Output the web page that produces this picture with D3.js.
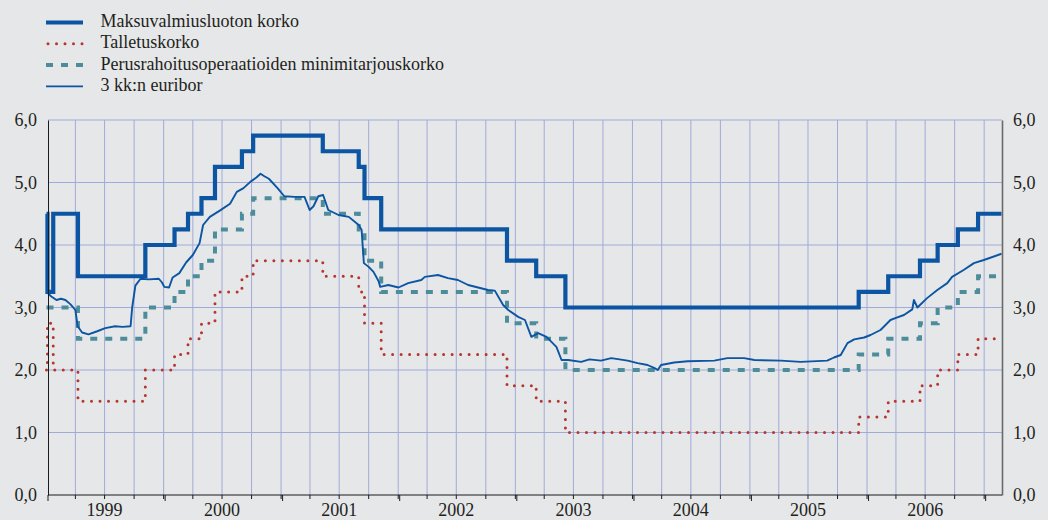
<!DOCTYPE html>
<head>
  <meta charset="utf-8">
  <script src="https://d3js.org/d3.v7.min.js"></script>
  <style>
    body { margin:0; background:#e6e7e9; }
    svg { display:block; }
    .grid-line { stroke:#a1aad9; stroke-width:1; }
    .axis path, .axis line { stroke:#1a1a1a; }
    .axis-right path { stroke:#6a6a6a; stroke-width:1.6; }
    .marginal { fill:none; stroke:#0b55a3; stroke-width:4.2; }
    .deposit { fill:none; stroke:#b5362f; stroke-width:3; stroke-dasharray:0,8.5; stroke-linecap:round; }
    .mro { fill:none; stroke:#4d8d9b; stroke-width:4; stroke-dasharray:7,8; }
    .euribor { fill:none; stroke:#0b55a3; stroke-width:1.9; stroke-linejoin:round; }
  </style>
</head>

<body>
  <script>
    // policy rate decisions (EKP), % per year
    var rateDates = ["1999-01-01","1999-01-04","1999-01-22","1999-04-09","1999-11-05",
      "2000-02-04","2000-03-17","2000-04-28","2000-06-09","2000-09-01","2000-10-06",
      "2001-05-11","2001-08-31","2001-09-18","2001-11-09","2002-12-06",
      "2003-03-07","2003-06-06","2005-12-06","2006-03-08","2006-06-15",
      "2006-08-09","2006-10-11","2006-12-13"];
    var marginalRate = [4.50,3.25,4.50,3.50,4.00, 4.25,4.50,4.75,5.25,5.50,5.75,
      5.50,5.25,4.75,4.25,3.75, 3.50,3.00,3.25,3.50,3.75, 4.00,4.25,4.50];
    var depositRate = [2.00,2.75,2.00,1.50,2.00, 2.25,2.50,2.75,3.25,3.50,3.75,
      3.50,3.25,2.75,2.25,1.75, 1.50,1.00,1.25,1.50,1.75, 2.00,2.25,2.50];
    var mroRate = [3.00,3.00,3.00,2.50,3.00, 3.25,3.50,3.75,4.25,4.50,4.75,
      4.50,4.25,3.75,3.25,2.75, 2.50,2.00,2.25,2.50,2.75, 3.00,3.25,3.50];
    var endDate = "2007-02-24";

    // 3 kk:n euribor
    var euriborDates = ["1999-01-01","1999-01-15","1999-02-01","1999-02-15","1999-03-01","1999-03-17",
      "1999-04-01","1999-04-08","1999-04-22","1999-05-12","1999-06-08","1999-07-03","1999-08-03",
      "1999-08-26","1999-09-20","1999-09-25","1999-10-05","1999-10-21","1999-11-16","1999-12-17",
      "1999-12-27","2000-01-03","2000-01-18","2000-01-29","2000-02-19","2000-03-11","2000-04-01",
      "2000-04-22","2000-05-03","2000-05-24","2000-06-24","2000-07-26","2000-08-16","2000-09-06",
      "2000-09-27","2000-10-16","2000-10-29","2000-11-10","2000-11-24","2000-12-21","2001-01-11",
      "2001-02-12","2001-03-15","2001-03-31","2001-04-12","2001-04-27","2001-05-12","2001-05-28",
      "2001-06-29","2001-07-31","2001-08-31","2001-09-09","2001-09-16","2001-10-01","2001-10-16",
      "2001-11-01","2001-11-06","2001-12-01","2002-01-02","2002-02-01","2002-03-14","2002-03-25",
      "2002-05-05","2002-06-05","2002-07-06","2002-08-07","2002-09-07","2002-10-08","2002-10-29",
      "2002-11-24","2002-12-10","2003-01-10","2003-01-31","2003-02-20","2003-03-13","2003-04-08",
      "2003-05-09","2003-05-25","2003-06-15","2003-07-25","2003-08-20","2003-09-25","2003-10-27",
      "2003-12-17","2004-01-17","2004-02-17","2004-03-10","2004-03-20","2004-03-30","2004-05-10",
      "2004-06-21","2004-09-12","2004-10-23","2004-12-14","2005-01-15","2005-04-07","2005-06-08",
      "2005-08-30","2005-09-20","2005-10-11","2005-11-01","2005-11-22","2005-12-23","2006-01-12",
      "2006-02-12","2006-03-15","2006-03-30","2006-04-26","2006-05-22","2006-05-27","2006-06-07",
      "2006-07-07","2006-08-08","2006-09-08","2006-09-23","2006-10-29","2006-11-30","2006-12-31",
      "2007-02-24"];
    var euriborValues = [3.25,3.18,3.12,3.14,3.12,3.05,
      2.96,2.70,2.60,2.57,2.62,2.67,2.70,
      2.69,2.70,3.00,3.35,3.46,3.45,3.46,
      3.40,3.33,3.32,3.48,3.55,3.72,3.84,
      4.03,4.32,4.45,4.55,4.66,4.85,4.91,
      5.01,5.08,5.14,5.10,5.06,4.91,4.78,
      4.77,4.77,4.56,4.62,4.78,4.80,4.56,
      4.48,4.45,4.32,4.24,3.71,3.65,3.57,
      3.42,3.33,3.36,3.32,3.39,3.44,3.49,
      3.52,3.47,3.44,3.36,3.32,3.28,3.27,
      3.04,2.96,2.85,2.80,2.53,2.59,2.53,
      2.37,2.16,2.16,2.13,2.17,2.15,2.19,
      2.15,2.11,2.08,2.03,2.00,2.08,2.12,
      2.14,2.15,2.19,2.19,2.16,2.15,2.13,
      2.15,2.20,2.24,2.43,2.49,2.52,2.56,
      2.64,2.80,2.83,2.88,2.97,3.12,3.00,
      3.15,3.28,3.39,3.49,3.60,3.71,3.76,
      3.86];

    var years = ["1999","2000","2001","2002","2003","2004","2005","2006"];
    var yTicks = [0, 1, 2, 3, 4, 5, 6];
    var legendLabels = ["Maksuvalmiusluoton korko", "Talletuskorko",
      "Perusrahoitusoperaatioiden minimitarjouskorko", "3 kk:n euribor"];
    var legendClasses = ["marginal", "deposit", "mro", "euribor"];

    var width = 1048, height = 520;
    var plot = {left: 48, right: 1002, top: 120, bottom: 495};
    var font = "'Liberation Serif'";

    var parse = d3.timeParse("%Y-%m-%d");
    var fi = d3.formatLocale({decimal: ",", thousands: " ", grouping: [3], currency: ["", " €"]});
    var fmt = fi.format(".1f");

    var svg = d3.select("body").append("svg")
      .attr("width", width)
      .attr("height", height);

    var x = d3.scaleTime()
      .domain([parse("1999-01-01"), parse(endDate)])
      .range([46.5, 1001.5]);

    var y = d3.scaleLinear()
      .domain([0, 6])
      .range([plot.bottom, plot.top]);

    var quarters = d3.timeMonth.every(3).range(parse("1999-04-01"), parse("2007-01-02"));
    var yearStarts = d3.timeYear.range(parse("1999-01-01"), parse("2007-01-02"));

    // grid
    var grid = svg.append("g");
    grid.selectAll(".v").data(quarters).enter().append("line")
      .attr("class", "grid-line")
      .attr("x1", d => x(d)).attr("x2", d => x(d))
      .attr("y1", plot.top).attr("y2", plot.bottom);
    grid.selectAll(".h").data(yTicks.slice(1)).enter().append("line")
      .attr("class", "grid-line")
      .attr("x1", plot.left).attr("x2", plot.right)
      .attr("y1", d => y(d)).attr("y2", d => y(d));

    // step series
    function steps(values) {
      var pts = rateDates.map((d, i) => ({date: parse(d), v: values[i]}));
      pts.push({date: parse(endDate), v: values[values.length - 1]});
      return pts;
    }
    var stepLine = d3.line()
      .x(d => x(d.date))
      .y(d => y(d.v))
      .curve(d3.curveStepAfter);

    var euribor = euriborDates.map((d, i) => ({date: parse(d), v: euriborValues[i]}));
    var line = d3.line()
      .x(d => x(d.date))
      .y(d => y(d.v));

    svg.append("path").attr("class", "deposit").attr("d", stepLine(steps(depositRate)));
    svg.append("path").attr("class", "mro").attr("d", stepLine(steps(mroRate)));
    svg.append("path").attr("class", "euribor").attr("d", line(euribor));
    svg.append("path").attr("class", "marginal").attr("d", stepLine(steps(marginalRate)));

    // axes
    svg.append("g")
      .attr("class", "axis")
      .attr("transform", "translate(" + plot.left + ",0)")
      .call(d3.axisLeft(y).tickValues(yTicks).tickFormat(fmt).tickSize(0).tickPadding(11));

    svg.append("g")
      .attr("class", "axis axis-right")
      .attr("transform", "translate(" + plot.right + ",0)")
      .call(d3.axisRight(y).tickValues(yTicks).tickFormat(fmt).tickSize(0).tickPadding(11));

    var xAxis = svg.append("g")
      .attr("class", "axis")
      .attr("transform", "translate(0," + plot.bottom + ")");
    xAxis.append("line")
      .attr("x1", plot.left).attr("x2", plot.right)
      .attr("stroke", "#1a1a1a");
    xAxis.selectAll(".qt").data(quarters).enter().append("line")
      .attr("x1", d => x(d)).attr("x2", d => x(d))
      .attr("y1", 0).attr("y2", 4);
    xAxis.selectAll(".yt").data(yearStarts).enter().append("line")
      .attr("x1", d => x(d) + 1.5).attr("x2", d => x(d) + 1.5)
      .attr("y1", 0).attr("y2", 6);

    xAxis.selectAll(".yl").data(years).enter().append("text")
      .attr("x", d => x(new Date(+d, 6, 1)))
      .attr("y", 21)
      .attr("text-anchor", "middle")
      .text(d => d);

    // legend
    var legend = svg.append("g").attr("transform", "translate(46,22.5)");
    var rows = legend.selectAll("g").data(legendLabels).enter().append("g")
      .attr("transform", (d, i) => "translate(0," + (i * 21.3) + ")");
    rows.append("path")
      .attr("class", (d, i) => legendClasses[i])
      .attr("d", (d, i) => i == 1 ? "M2,0H38" : "M0,0H37");
    rows.append("text")
      .attr("x", 54.5)
      .attr("y", 4.5)
      .text(d => d);

    svg.selectAll("text")
      .style("font-family", font)
      .style("font-size", "18px")
      .style("fill", "#231f20");
  </script>
</body>
